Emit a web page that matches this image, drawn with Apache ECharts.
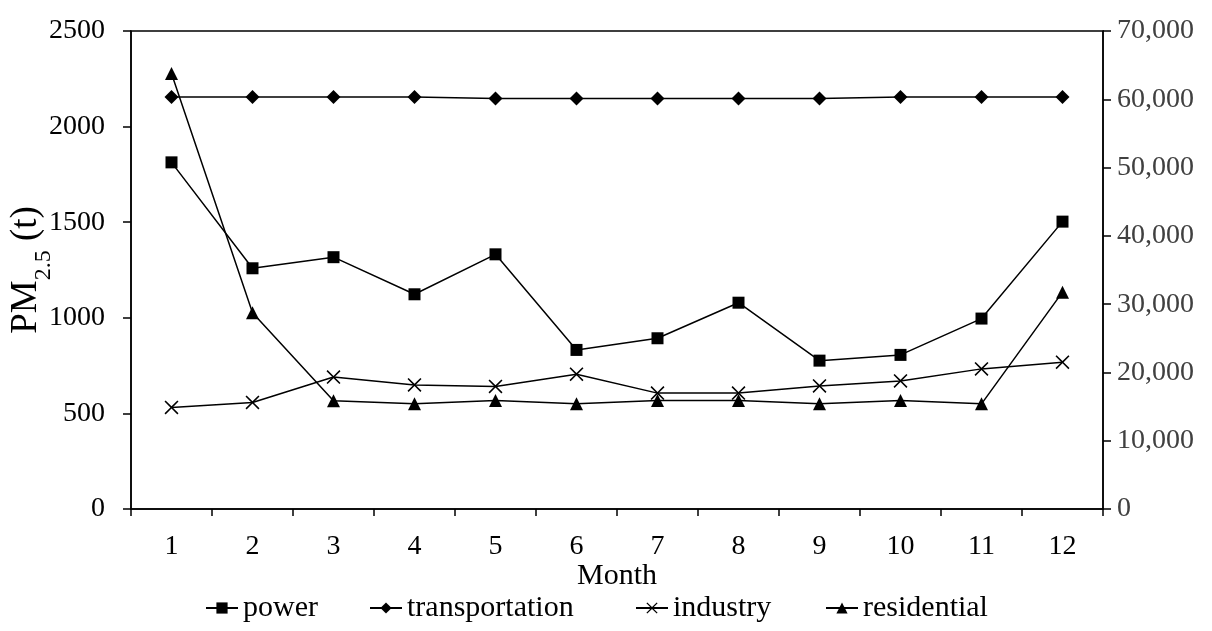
<!DOCTYPE html>
<html>
<head>
<meta charset="utf-8">
<script src="https://cdn.jsdelivr.net/npm/echarts@6/dist/echarts.min.js"></script>
<style>
html,body{margin:0;padding:0;background:#fff;}
#chart{width:1212px;height:631px;}
</style>
</head>
<body>
<div id="chart"></div>
<script>
// ---- data ----
const months = ['1','2','3','4','5','6','7','8','9','10','11','12'];
const power = [1813, 1259, 1317, 1123, 1332, 832, 893, 1079, 776, 806, 996, 1503];
const transportation = [60350, 60350, 60350, 60350, 60110, 60110, 60110, 60110, 60110, 60350, 60350, 60350];
const industry = [14870, 15600, 19320, 18170, 17950, 19740, 16970, 16970, 18030, 18760, 20520, 21500];
const residential = [2278, 1027, 566, 550, 567, 550, 567, 567, 550, 567, 550, 1134];
const leftTicks = [0, 2500, 500];
const rightTicks = [0, 70000, 10000];
const seriesNames = ['power', 'transportation', 'industry', 'residential'];

const FONT = 'Liberation Serif';
const crossPath = 'path://M0,8L8,0L50,42L92,0L100,8L58,50L100,92L92,100L50,58L8,100L0,92L42,50Z';

const chart = echarts.init(document.getElementById('chart'), null, {renderer: 'canvas'});

function mk(name, data, yIdx, symbol, size) {
  return {
    name: name, type: 'line', data: data, yAxisIndex: yIdx,
    symbol: symbol, symbolSize: size,
    lineStyle: {color: '#000', width: 1.5},
    itemStyle: {color: '#000'},
    animation: false
  };
}

const legendLefts = [200, 364, 630, 820];
const legends = seriesNames.map((n, i) => ({
  bottom: 3, left: legendLefts[i],
  itemWidth: 32, itemHeight: 14, itemGap: 10,
  textStyle: {fontFamily: FONT, fontSize: 30, color: '#000'},
  data: [n]
}));

chart.setOption({
  animation: false,
  textStyle: {fontFamily: FONT, color: '#000'},
  grid: {left: 131, right: 109, top: 31, bottom: 122, show: true, borderColor: '#000', borderWidth: 1.5,
         outerBoundsMode: 'none', containLabel: false},
  legend: legends,
  xAxis: {
    type: 'category', data: months, boundaryGap: true,
    name: 'Month', nameLocation: 'middle', nameGap: 52, nameMoveOverlap: false,
    nameTextStyle: {fontFamily: FONT, fontSize: 30, color: '#000'},
    axisLine: {lineStyle: {color: '#000', width: 1.5}},
    axisTick: {show: true, length: 7, alignWithLabel: false, lineStyle: {color: '#000', width: 1.5}},
    axisLabel: {fontFamily: FONT, fontSize: 28, color: '#000', margin: 24}
  },
  yAxis: [
    {
      type: 'value', min: leftTicks[0], max: leftTicks[1], interval: leftTicks[2],
      name: '{a|PM}{b|2.5}{a| (t)}', nameLocation: 'middle', nameGap: 84, nameRotate: 90,
      nameMoveOverlap: false,
      nameTextStyle: {
        fontFamily: FONT, color: '#000',
        rich: {
          a: {fontFamily: FONT, fontSize: 37, color: '#000', lineHeight: 42, verticalAlign: 'middle'},
          b: {fontFamily: FONT, fontSize: 24, color: '#000', lineHeight: 42, verticalAlign: 'bottom', padding: [0, 0, -9, 0]}
        }
      },
      axisLine: {show: true, lineStyle: {color: '#000', width: 1.5}},
      axisTick: {show: true, length: 8, lineStyle: {color: '#000', width: 1.5}},
      axisLabel: {fontFamily: FONT, fontSize: 28, color: '#000', margin: 26, formatter: v => String(v)},
      splitLine: {show: false}
    },
    {
      type: 'value', min: rightTicks[0], max: rightTicks[1], interval: rightTicks[2],
      position: 'right',
      axisLine: {show: true, lineStyle: {color: '#000', width: 1.5}},
      axisTick: {show: true, length: 8, lineStyle: {color: '#000', width: 1.5}},
      axisLabel: {fontFamily: FONT, fontSize: 28, color: '#404040', margin: 14,
        formatter: v => v.toLocaleString('en-US')},
      splitLine: {show: false}
    }
  ],
  series: [
    mk('power', power, 0, 'rect', 12),
    mk('transportation', transportation, 1, 'diamond', 14),
    mk('industry', industry, 1, crossPath, 14),
    mk('residential', residential, 0, 'triangle', 13)
  ]
});
</script>
</body>
</html>
